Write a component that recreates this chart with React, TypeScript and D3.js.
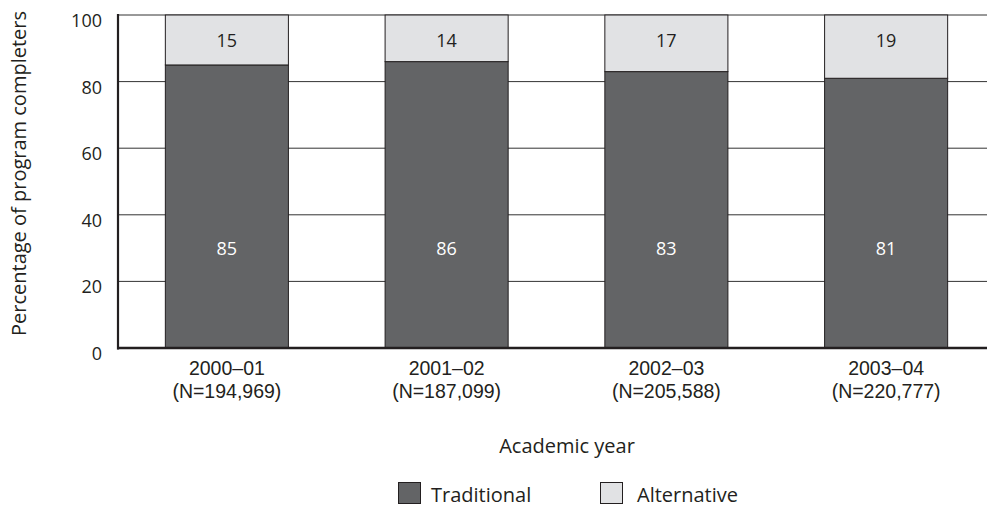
import React from "react";
import * as d3 from "d3";

const years = ["2000–01", "2001–02", "2002–03", "2003–04"];
const nLabels = ["(N=194,969)", "(N=187,099)", "(N=205,588)", "(N=220,777)"];
const traditional = [85, 86, 83, 81];
const alternative = [15, 14, 17, 19];
const yTicks = [0, 20, 40, 60, 80, 100];

const W = 987;
const H = 508;
const FONT = "'Open Sans', 'Noto Sans', sans-serif";
const CAT_FONT = "'Liberation Sans', Arial, sans-serif";
const DARK = "#636466";
const LIGHT = "#e1e2e4";
const INK = "#231f20";

export default function App() {
  const x = d3.scaleBand<string>().domain(years).range([117, 996]).paddingInner(0.44).paddingOuter(0.22);
  const y = d3.scaleLinear().domain([0, 100]).range([348, 15]);
  const bw = x.bandwidth();

  return (
    <svg width={W} height={H} style={{ position: "absolute", left: 0, top: 0, background: "#fff" }} fontFamily={FONT}>
      {/* gridlines */}
      {yTicks.filter((t) => t > 0).map((t) => (
        <line key={t} x1={118} x2={W} y1={y(t)} y2={y(t)} stroke="#333" strokeWidth={1} />
      ))}
      {/* bars */}
      {years.map((yr, i) => {
        const x0 = x(yr)!;
        const cx = x0 + bw / 2;
        const t = traditional[i];
        const a = alternative[i];
        return (
          <g key={yr}>
            <rect x={x0} y={y(t)} width={bw} height={y(0) - y(t)} fill={DARK} stroke={INK} strokeWidth={1} />
            <rect x={x0} y={y(t + a)} width={bw} height={y(t) - y(t + a)} fill={LIGHT} stroke={INK} strokeWidth={1} />
            <text x={cx} y={255} textAnchor="middle" fill="#fff" fontSize={18}>{t}</text>
            <text x={cx} y={46.5} textAnchor="middle" fill={INK} fontSize={18}>{a}</text>
            <text x={cx} y={375} textAnchor="middle" fill={INK} fontSize={19.5} fontFamily={CAT_FONT}>{yr}</text>
            <text x={cx} y={397.5} textAnchor="middle" fill={INK} fontSize={19.5} fontFamily={CAT_FONT}>{nLabels[i]}</text>
          </g>
        );
      })}
      {/* axes */}
      <line x1={118} x2={118} y1={14} y2={349.5} stroke={INK} strokeWidth={2.2} />
      <line x1={117} x2={W} y1={348} y2={348} stroke={INK} strokeWidth={2.5} />
      {yTicks.map((t) => (
        <text key={t} x={102} y={y(t) + 12} textAnchor="end" fill={INK} fontSize={18}>{t}</text>
      ))}
      <text transform="translate(26,173.5) rotate(-90)" textAnchor="middle" fill={INK} fontSize={20}>Percentage of program completers</text>
      <text x={567} y={453} textAnchor="middle" fill={INK} fontSize={20}>Academic year</text>
      {/* legend */}
      <rect x={398.5} y={482.5} width={22} height={21} fill={DARK} stroke={INK} strokeWidth={1} />
      <text x={431} y={502} fill={INK} fontSize={20}>Traditional</text>
      <rect x={600.5} y={482.5} width={22} height={21} fill={LIGHT} stroke={INK} strokeWidth={1} />
      <text x={637} y={502} fill={INK} fontSize={20}>Alternative</text>
    </svg>
  );
}
